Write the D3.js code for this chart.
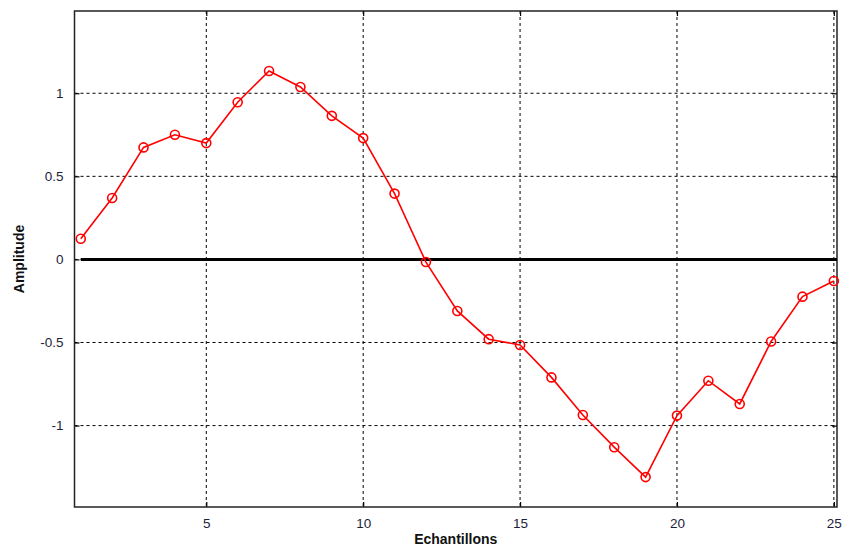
<!DOCTYPE html>
<html><head><meta charset="utf-8">
<script src="https://cdn.jsdelivr.net/npm/d3@7"></script>
<style>body{margin:0;background:#fff}svg{display:block}</style>
</head><body><svg id="c" width="843" height="552"></svg>
<script>
const samples = d3.range(1, 26);
const amplitude = [0.124, 0.37, 0.674, 0.75, 0.70, 0.946, 1.134, 1.038, 0.864, 0.73,
  0.396, -0.016, -0.31, -0.48, -0.515, -0.71, -0.936, -1.13, -1.31, -0.94,
  -0.73, -0.87, -0.494, -0.224, -0.13];
const xTicks = [5, 10, 15, 20, 25];
const yTicks = [-1, -0.5, 0, 0.5, 1];
const xLabel = "Echantillons", yLabel = "Amplitude";

const svg = d3.select("#c");
const L = 74.5, R = 837, T = 11, B = 507;
const x = d3.scaleLinear().domain([0.8, 25.1]).range([L, R]);
const y = d3.scaleLinear().domain([-1.49, 1.495]).range([B, T]);
const font = "Arial, 'Liberation Sans', sans-serif";

// grid
svg.append("g").selectAll("line").data(xTicks).join("line")
  .attr("x1", d => x(d)).attr("x2", d => x(d)).attr("y1", T).attr("y2", B)
  .attr("stroke", "#000").attr("stroke-width", 1).attr("stroke-dasharray", "3,3");
svg.append("g").selectAll("line").data(yTicks).join("line")
  .attr("x1", L).attr("x2", R).attr("y1", d => y(d)).attr("y2", d => y(d))
  .attr("stroke", "#000").attr("stroke-width", 1).attr("stroke-dasharray", "3,3");

// axes frame with inward ticks
const ax = svg.append("g").attr("transform", `translate(0,${B})`).call(
  d3.axisBottom(x).tickValues(xTicks).tickSize(-5).tickPadding(11).tickFormat(d => String(d)));
const axT = svg.append("g").attr("transform", `translate(0,${T})`).call(
  d3.axisTop(x).tickValues(xTicks).tickSize(-5).tickFormat(""));
const ay = svg.append("g").attr("transform", `translate(${L},0)`).call(
  d3.axisLeft(y).tickValues(yTicks).tickSize(-5).tickPadding(11).tickFormat(d => String(d)));
const ayR = svg.append("g").attr("transform", `translate(${R},0)`).call(
  d3.axisRight(y).tickValues(yTicks).tickSize(-5).tickFormat(""));
[ax, axT, ay, ayR].forEach(g => {
  g.select(".domain").remove();
  g.selectAll(".tick line").attr("stroke", "#000").attr("stroke-width", 1.2);
  g.selectAll("text").attr("font-family", font).attr("font-size", 13.5).attr("fill", "#1e1e3a");
});
svg.append("rect").attr("x", L).attr("y", T).attr("width", R - L).attr("height", B - T)
  .attr("fill", "none").attr("stroke", "#222").attr("stroke-width", 1.5);

// zero line
svg.append("line").attr("x1", x(1)).attr("x2", R).attr("y1", y(0)).attr("y2", y(0))
  .attr("stroke", "#000").attr("stroke-width", 3);

// series
const pts = samples.map((s, i) => [s, amplitude[i]]);
svg.append("path").datum(pts)
  .attr("d", d3.line().x(d => x(d[0])).y(d => y(d[1])))
  .attr("fill", "none").attr("stroke", "#ff0000").attr("stroke-width", 1.6);
svg.append("g").selectAll("circle").data(pts).join("circle")
  .attr("cx", d => x(d[0])).attr("cy", d => y(d[1])).attr("r", 4.5)
  .attr("fill", "none").attr("stroke", "#ff0000").attr("stroke-width", 1.6);

// labels
svg.append("text").attr("x", (L + R) / 2).attr("y", 544).attr("text-anchor", "middle")
  .attr("font-family", font).attr("font-weight", "bold").attr("font-size", 14).attr("fill", "#111")
  .text(xLabel);
svg.append("text").attr("transform", `translate(24,${(T + B) / 2}) rotate(-90)`)
  .attr("text-anchor", "middle")
  .attr("font-family", font).attr("font-weight", "bold").attr("font-size", 14).attr("fill", "#111")
  .text(yLabel);
</script></body></html>
